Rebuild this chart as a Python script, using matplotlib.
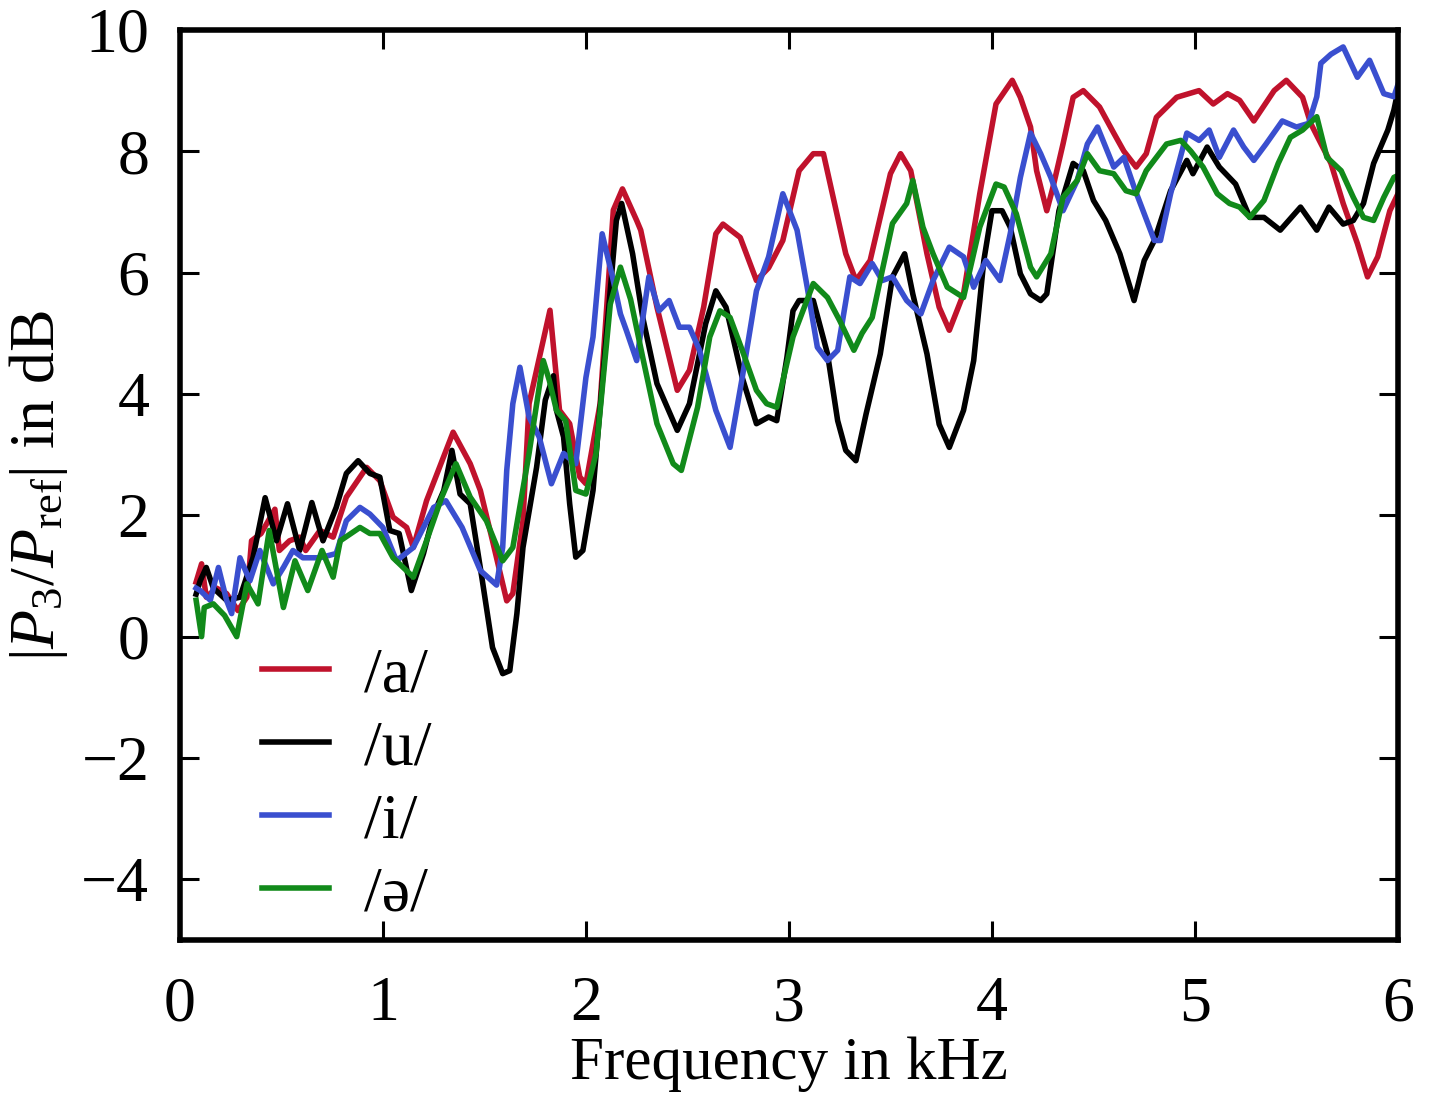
import matplotlib
matplotlib.use("Agg")
import matplotlib.pyplot as plt

plt.rcParams['font.family'] = ['Liberation Serif', 'DejaVu Serif']
plt.rcParams['mathtext.fontset'] = 'custom'
plt.rcParams['mathtext.rm'] = 'Liberation Serif'
plt.rcParams['mathtext.it'] = 'Liberation Serif:italic'

# ---- data (frequency in kHz, level in dB) ----
f_a = [0.08, 0.107, 0.13, 0.18, 0.23, 0.286, 0.33, 0.353, 0.40, 0.468, 0.49, 0.54, 0.59, 0.62, 0.69, 0.755,
       0.82, 0.92, 0.985, 1.05, 1.117, 1.15, 1.215, 1.28, 1.346, 1.43, 1.48, 1.54, 1.61, 1.64, 1.69, 1.72,
       1.823, 1.87, 1.92, 1.97, 2.0, 2.07, 2.135, 2.18, 2.25, 2.27, 2.35, 2.45, 2.51, 2.58, 2.64, 2.675,
       2.76, 2.84, 2.9, 2.97, 3.05, 3.12, 3.17, 3.28, 3.33, 3.4, 3.5, 3.55, 3.6, 3.68, 3.74, 3.79, 3.86,
       3.94, 4.02, 4.1, 4.14, 4.19, 4.22, 4.27, 4.3, 4.35, 4.4, 4.45, 4.53, 4.6, 4.65, 4.71, 4.76, 4.81,
       4.91, 5.02, 5.09, 5.16, 5.22, 5.29, 5.39, 5.45, 5.53, 5.57, 5.67, 5.73, 5.8, 5.85, 5.9, 5.96, 6.0]
v_a = [0.9, 1.2, 0.65, 0.8, 0.71, 0.43, 0.65, 1.58, 1.7, 2.1, 1.42, 1.58, 1.64, 1.42, 1.75, 1.64,
       2.3, 2.79, 2.57, 1.97, 1.8, 1.47, 2.24, 2.8, 3.37, 2.85, 2.41, 1.58, 0.59, 0.71, 1.91, 3.84,
       5.38, 3.73, 3.51, 2.63, 2.52, 3.84, 7.03, 7.38, 6.86, 6.7, 5.43, 4.06, 4.39, 5.43, 6.64, 6.8,
       6.58, 5.87, 6.08, 6.53, 7.68, 7.96, 7.96, 6.31, 5.87, 6.2, 7.63, 7.96, 7.68, 6.31, 5.43, 5.05, 5.65,
       7.3, 8.78, 9.17, 8.89, 8.4, 7.68, 7.02, 7.4, 8.12, 8.89, 9.0, 8.73, 8.3, 8.0, 7.74, 7.96, 8.56,
       8.89, 9.0, 8.78, 8.95, 8.84, 8.5, 9.0, 9.17, 8.89, 8.46, 7.8, 7.14, 6.48, 5.93, 6.26, 7.02, 7.3]

f_u = [0.08, 0.1, 0.13, 0.165, 0.23, 0.296, 0.36, 0.42, 0.476, 0.53, 0.59, 0.65, 0.705, 0.77, 0.82,
       0.878, 0.936, 0.985, 1.034, 1.08, 1.14, 1.2, 1.25, 1.3, 1.34, 1.38, 1.43, 1.49, 1.54, 1.59,
       1.625, 1.66, 1.69, 1.757, 1.80, 1.84, 1.855, 1.89, 1.92, 1.95, 1.985, 2.035, 2.1, 2.15, 2.176,
       2.23, 2.28, 2.35, 2.45, 2.51, 2.59, 2.64, 2.69, 2.77, 2.84, 2.9, 2.94, 2.99, 3.02, 3.05, 3.12,
       3.19, 3.24, 3.28, 3.33, 3.38, 3.45, 3.51, 3.57, 3.61, 3.68, 3.74, 3.79, 3.86, 3.91, 3.96, 4.0,
       4.05, 4.09, 4.14, 4.19, 4.24, 4.27, 4.33, 4.4, 4.45, 4.5, 4.56, 4.63, 4.7, 4.75, 4.8, 4.88,
       4.96, 4.99, 5.06, 5.12, 5.2, 5.27, 5.34, 5.42, 5.52, 5.6, 5.66, 5.73, 5.78, 5.83, 5.88, 5.95,
       5.98, 6.0]
v_u = [0.7, 0.92, 1.14, 0.8, 0.6, 0.65, 1.3, 2.29, 1.58, 2.19, 1.42, 2.21, 1.58, 2.13, 2.69,
       2.9, 2.69, 2.63, 1.75, 1.7, 0.76, 1.37, 2.02, 2.41, 3.07, 2.35, 2.19, 0.92, -0.18, -0.61,
       -0.56, 0.38, 1.47, 2.79, 3.9, 4.3, 3.73, 3.29, 2.19, 1.31, 1.42, 2.41, 4.94, 6.86, 7.14,
       6.31, 5.26, 4.17, 3.4, 3.84, 5.16, 5.7, 5.43, 4.27, 3.51, 3.62, 3.56, 4.6, 5.37, 5.54, 5.54,
       4.66, 3.56, 3.07, 2.9, 3.67, 4.66, 5.93, 6.31, 5.65, 4.66, 3.5, 3.12, 3.73, 4.55, 6.2, 7.02,
       7.02, 6.75, 5.98, 5.65, 5.54, 5.65, 7.02, 7.8, 7.68, 7.19, 6.86, 6.31, 5.54, 6.2, 6.53, 7.35,
       7.85, 7.63, 8.07, 7.74, 7.46, 6.91, 6.91, 6.7, 7.08, 6.7, 7.08, 6.8, 6.86, 7.14, 7.8, 8.35,
       8.68, 9.0]

f_i = [0.08, 0.1, 0.15, 0.19, 0.23, 0.255, 0.296, 0.345, 0.394, 0.46, 0.51, 0.557, 0.606, 0.69, 0.77,
       0.82, 0.887, 0.936, 1.0, 1.067, 1.15, 1.25, 1.31, 1.39, 1.48, 1.56, 1.59, 1.61, 1.64, 1.675,
       1.72, 1.77, 1.83, 1.89, 1.95, 2.0, 2.035, 2.08, 2.135, 2.17, 2.2, 2.25, 2.31, 2.36, 2.41, 2.46,
       2.51, 2.56, 2.64, 2.71, 2.77, 2.84, 2.9, 2.97, 3.04, 3.09, 3.14, 3.19, 3.24, 3.3, 3.35, 3.41,
       3.46, 3.51, 3.58, 3.65, 3.71, 3.79, 3.86, 3.91, 3.97, 4.04, 4.09, 4.14, 4.19, 4.24, 4.29, 4.35,
       4.42, 4.47, 4.52, 4.6, 4.65, 4.7, 4.8, 4.83, 4.88, 4.96, 5.02, 5.07, 5.12, 5.19, 5.24, 5.29,
       5.35, 5.43, 5.5, 5.56, 5.6, 5.62, 5.67, 5.73, 5.8, 5.86, 5.93, 5.98, 6.0]
v_i = [0.8, 0.76, 0.6, 1.14, 0.6, 0.38, 1.3, 0.92, 1.42, 0.87, 1.14, 1.42, 1.3, 1.3, 1.37,
       1.91, 2.13, 2.02, 1.8, 1.25, 1.47, 2.13, 2.24, 1.8, 1.09, 0.85, 1.47, 2.74, 3.84, 4.44,
       3.62, 3.29, 2.52, 3.02, 2.85, 4.27, 4.94, 6.64, 5.87, 5.32, 5.04, 4.55, 5.93, 5.37, 5.54, 5.1,
       5.1, 4.72, 3.73, 3.12, 4.27, 5.7, 6.26, 7.3, 6.7, 5.76, 4.77, 4.55, 4.72, 5.93, 5.82, 6.15,
       5.87, 5.93, 5.54, 5.32, 5.87, 6.42, 6.26, 5.76, 6.2, 5.87, 6.64, 7.57, 8.3, 7.96, 7.57, 7.02,
       7.52, 8.12, 8.4, 7.74, 7.9, 7.41, 6.53, 6.53, 7.3, 8.3, 8.18, 8.35, 7.9, 8.35, 8.07, 7.85,
       8.12, 8.5, 8.4, 8.46, 8.9, 9.45, 9.6, 9.72, 9.22, 9.5, 8.95, 8.9, 9.1]

f_schwa = [0.08, 0.107, 0.12, 0.165, 0.22, 0.28, 0.33, 0.385, 0.44, 0.51, 0.567, 0.63, 0.7, 0.755, 0.79,
           0.887, 0.936, 0.985, 1.05, 1.15, 1.215, 1.29, 1.36, 1.43, 1.51, 1.59, 1.64, 1.72, 1.79, 1.82,
           1.855, 1.9, 1.95, 2.0, 2.05, 2.12, 2.17, 2.22, 2.28, 2.35, 2.43, 2.47, 2.55, 2.61, 2.66, 2.71,
           2.77, 2.84, 2.89, 2.94, 3.02, 3.12, 3.19, 3.25, 3.32, 3.36, 3.41, 3.46, 3.51, 3.58, 3.61, 3.66,
           3.71, 3.78, 3.86, 3.94, 4.02, 4.06, 4.12, 4.19, 4.22, 4.29, 4.35, 4.42, 4.47, 4.53, 4.6, 4.66,
           4.71, 4.76, 4.86, 4.93, 4.98, 5.04, 5.11, 5.17, 5.22, 5.27, 5.34, 5.41, 5.47, 5.53, 5.6, 5.65,
           5.72, 5.78, 5.83, 5.88, 5.93, 5.98, 6.0]
v_schwa = [0.6, 0.0, 0.48, 0.54, 0.35, 0.0, 0.87, 0.54, 1.75, 0.48, 1.25, 0.76, 1.42, 0.98, 1.58,
           1.8, 1.7, 1.7, 1.3, 0.98, 1.58, 2.3, 2.85, 2.3, 1.91, 1.25, 1.47, 3.02, 4.55, 4.22,
           3.73, 3.56, 2.41, 2.35, 3.02, 5.48, 6.09, 5.56, 4.6, 3.51, 2.85, 2.74, 3.78, 4.94, 5.37, 5.26,
           4.72, 4.06, 3.84, 3.78, 4.94, 5.82, 5.59, 5.21, 4.72, 5.0, 5.26, 6.04, 6.81, 7.14, 7.52, 6.75,
           6.31, 5.76, 5.59, 6.75, 7.46, 7.41, 6.97, 6.09, 5.93, 6.31, 7.24, 7.52, 7.96, 7.68, 7.63, 7.35,
           7.3, 7.68, 8.12, 8.18, 8.0, 7.74, 7.3, 7.14, 7.08, 6.91, 7.19, 7.8, 8.23, 8.35, 8.57, 7.9,
           7.68, 7.24, 6.91, 6.86, 7.24, 7.57, 7.6]

labels = ['/a/', '/u/', '/i/', '/ə/']
colors = ['#C0122C', '#000000', '#3A4FCF', '#118A1A']
x_ticks = [0, 1, 2, 3, 4, 5, 6]
y_ticks = [-4, -2, 0, 2, 4, 6, 8, 10]

fig = plt.figure(figsize=(14.39, 10.93), dpi=100)
ax = fig.add_axes([0.125, 0.14, 0.8465, 0.8326])

series = [(f_a, v_a), (f_u, v_u), (f_i, v_i), (f_schwa, v_schwa)]
for (f, v), lab, c in zip(series, labels, colors):
    ax.plot(f, v, color=c, lw=4.0, label=lab, solid_joinstyle='round')

ax.set_xlim(0, 6)
ax.set_ylim(-5, 10)
ax.set_xticks(x_ticks)
ax.set_yticks(y_ticks)
ax.set_yticklabels([('\u2212' + str(-t)) if t < 0 else str(t) for t in y_ticks])
ax.tick_params(direction='in', length=14, width=2.2, labelsize=46, top=True, right=True)
ax.tick_params(axis='x', pad=26)
ax.tick_params(axis='y', pad=22)
for s in ax.spines.values():
    s.set_linewidth(4)

ax.set_xlabel('Frequency in kHz', fontsize=44, labelpad=2)
ax.set_ylabel(r'$|P_3/P_{\mathrm{ref}}|$ in dB', fontsize=46, labelpad=8)

leg = ax.legend(loc='upper left', bbox_to_anchor=(0.02, 0.385), frameon=False, fontsize=46,
                handlelength=1.05, handletextpad=0.55, labelspacing=0.22)
for line in leg.get_lines():
    line.set_linewidth(4.0)

fig.savefig('out.png', dpi=100)
